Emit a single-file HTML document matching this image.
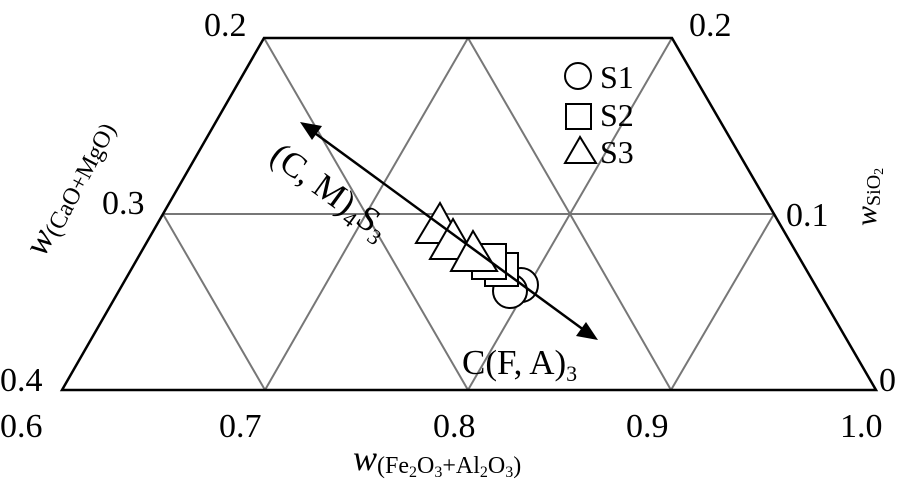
<!DOCTYPE html>
<html><head><meta charset="utf-8"><style>
html,body{margin:0;padding:0;background:#fff;}
svg{display:block;font-family:"Liberation Serif",serif;}
</style></head><body>
<svg width="907" height="500" viewBox="0 0 907 500" xmlns="http://www.w3.org/2000/svg">
<g stroke="#777" stroke-width="2" fill="none">
<line x1="163" y1="214" x2="774" y2="214"/>
<line x1="366" y1="214" x2="264" y2="38"/>
<line x1="366" y1="214" x2="468" y2="38"/>
<line x1="570" y1="214" x2="468" y2="38"/>
<line x1="570" y1="214" x2="672" y2="38"/>
<line x1="265" y1="390" x2="163" y2="214"/>
<line x1="265" y1="390" x2="366" y2="214"/>
<line x1="468" y1="390" x2="366" y2="214"/>
<line x1="468" y1="390" x2="570" y2="214"/>
<line x1="671" y1="390" x2="570" y2="214"/>
<line x1="671" y1="390" x2="774" y2="214"/>
</g>
<polygon points="264,38 672,38 876,390 62,390" fill="none" stroke="#000" stroke-width="2.5"/>
<g fill="#fff" stroke="#000" stroke-width="2">
<circle cx="521" cy="285" r="17"/>
<circle cx="510" cy="291" r="17"/>
<rect x="485" y="253" width="33" height="33"/>
<rect x="472" y="244" width="34" height="35"/>
<polygon points="440,203 416,243 462,243"/>
<polygon points="453,219 430,259 476,259"/>
<polygon points="473,231 451,271 497,271"/>
</g>
<line x1="312" y1="131" x2="588" y2="333" stroke="#000" stroke-width="2.5"/>
<polygon points="300,122 322,126 312,140" fill="#000"/>
<polygon points="598,340 576,336 586,322" fill="#000"/>
<g fill="#fff" stroke="#000" stroke-width="2">
<circle cx="578" cy="76" r="13"/>
<rect x="566" y="104" width="25" height="25"/>
<polygon points="580,137 565,163 596,163"/>
</g>
<g font-size="32" fill="#000">
<text x="600" y="88">S1</text>
<text x="600" y="126">S2</text>
<text x="600" y="163">S3</text>
</g>
<g font-size="34" fill="#000">
<text x="204" y="36">0.2</text>
<text x="102" y="214">0.3</text>
<text x="0" y="391">0.4</text>
<text x="689" y="36">0.2</text>
<text x="786" y="226">0.1</text>
<text x="879" y="391">0</text>
<text x="0" y="437">0.6</text>
<text x="219" y="437">0.7</text>
<text x="433" y="437">0.8</text>
<text x="626" y="437">0.9</text>
<text x="840" y="437">1.0</text>
</g>
<text x="462" y="374" font-size="35">C(F, A)<tspan font-size="22" dy="7">3</tspan></text>
<text transform="translate(268,160) rotate(36)" font-size="35">(C, M)<tspan font-size="22" dy="7">4</tspan><tspan dy="-7">S</tspan><tspan font-size="22" dy="7">3</tspan></text>
<text x="353" y="470" font-size="36" font-style="italic">w<tspan font-size="24" font-style="normal" dy="3">(Fe<tspan font-size="16" dy="4">2</tspan><tspan dy="-4">O</tspan><tspan font-size="16" dy="4">3</tspan><tspan dy="-4">+Al</tspan><tspan font-size="16" dy="4">2</tspan><tspan dy="-4">O</tspan><tspan font-size="16" dy="4">3</tspan><tspan dy="-4">)</tspan></tspan></text>
<text transform="translate(44,258) rotate(-62)" font-size="36" font-style="italic">w<tspan font-size="24" font-style="normal" dy="3">(CaO+MgO)</tspan></text>
<text transform="translate(876,226) rotate(-90)" font-size="30" font-style="italic">w<tspan font-size="20" font-style="normal" dy="4">SiO</tspan><tspan font-size="14" font-style="normal" dy="3">2</tspan></text>
</svg>
</body></html>
